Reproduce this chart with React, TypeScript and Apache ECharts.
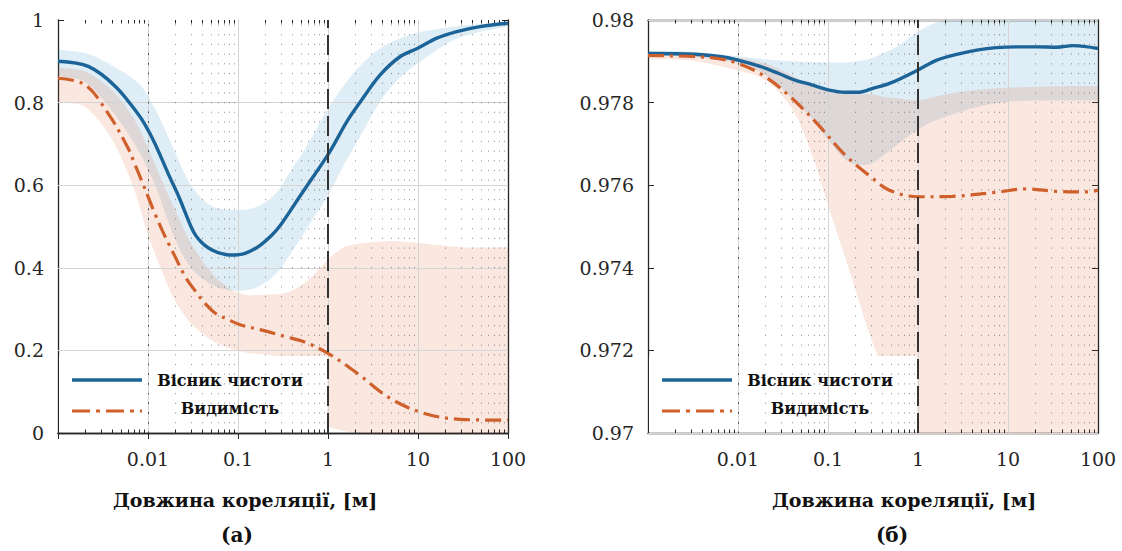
import React, { useEffect, useRef } from 'react';
import * as echarts from 'echarts';

// ---------- Panel (а) ----------
const purityAX = [0.001, 0.0022, 0.0044, 0.0079, 0.0093, 0.012, 0.017, 0.022, 0.03, 0.034, 0.04, 0.047, 0.06, 0.085, 0.12, 0.17, 0.24, 0.3, 0.417, 0.59, 1.02, 1.62, 2.29, 3.8, 6.3, 9.8, 16.2, 27, 49, 100];
const purityAY = [0.900, 0.887, 0.838, 0.770, 0.746, 0.700, 0.625, 0.572, 0.500, 0.478, 0.460, 0.448, 0.437, 0.431, 0.435, 0.452, 0.480, 0.505, 0.551, 0.600, 0.677, 0.754, 0.802, 0.867, 0.911, 0.931, 0.956, 0.972, 0.984, 0.992];
const visAX = [0.001, 0.002, 0.0036, 0.0059, 0.0072, 0.0086, 0.0102, 0.012, 0.0143, 0.0169, 0.02, 0.026, 0.034, 0.043, 0.056, 0.079, 0.11, 0.185, 0.34, 0.54, 1, 2.1, 4.9, 11.5, 29.5, 100];
const visAY = [0.859, 0.843, 0.774, 0.693, 0.649, 0.608, 0.568, 0.530, 0.492, 0.459, 0.427, 0.378, 0.342, 0.314, 0.29, 0.274, 0.261, 0.249, 0.233, 0.221, 0.193, 0.145, 0.084, 0.048, 0.033, 0.031];
const purityBandAX = [0.001, 0.002, 0.004, 0.008, 0.012, 0.02, 0.03, 0.05, 0.085, 0.15, 0.25, 0.4, 0.6, 1, 1.6, 2.3, 4, 6.3, 10, 27, 100];
const purityBandALow = [0.865, 0.85, 0.78, 0.68, 0.60, 0.47, 0.40, 0.36, 0.345, 0.35, 0.38, 0.44, 0.50, 0.575, 0.66, 0.72, 0.81, 0.86, 0.895, 0.955, 0.985];
const purityBandAHigh = [0.928, 0.92, 0.89, 0.845, 0.785, 0.68, 0.60, 0.55, 0.54, 0.545, 0.575, 0.64, 0.70, 0.785, 0.85, 0.89, 0.935, 0.955, 0.97, 0.985, 0.995];
const visBandAX = [0.001, 0.002, 0.004, 0.007, 0.01, 0.015, 0.02, 0.03, 0.05, 0.08, 0.12, 0.2, 0.35, 0.6, 1, 1.5, 2.5, 5, 10, 30, 100];
const visBandALow = [0.80, 0.79, 0.71, 0.59, 0.48, 0.38, 0.32, 0.265, 0.225, 0.205, 0.195, 0.19, 0.18, 0.14, 0.02, 0.005, 0, 0, 0, 0, 0];
const visBandAHigh = [0.885, 0.875, 0.83, 0.76, 0.69, 0.60, 0.54, 0.46, 0.39, 0.35, 0.335, 0.335, 0.34, 0.37, 0.42, 0.45, 0.46, 0.465, 0.46, 0.45, 0.45];

// ---------- Panel (б) ----------
const purityBX = [0.001, 0.0033, 0.0066, 0.01, 0.018, 0.028, 0.042, 0.066, 0.1, 0.155, 0.215, 0.31, 0.49, 1, 1.62, 2.7, 4.5, 7.4, 12.3, 21, 35, 53, 100];
const purityBY = [0.97919, 0.97917, 0.97911, 0.97903, 0.97887, 0.97871, 0.97855, 0.97843, 0.97831, 0.97825, 0.97825, 0.97834, 0.97847, 0.97879, 0.97903, 0.97917, 0.97927, 0.97933, 0.97935, 0.97935, 0.97934, 0.97938, 0.97931];
const visBX = [0.001, 0.005, 0.01, 0.02, 0.04, 0.078, 0.155, 0.3, 0.48, 1, 2.4, 7.4, 16, 35, 80, 100];
const visBY = [0.97914, 0.97909, 0.97895, 0.97863, 0.9781, 0.97746, 0.97673, 0.9762, 0.97588, 0.97572, 0.97573, 0.97583, 0.97591, 0.97585, 0.97584, 0.97588];
const bandBX = [0.001, 0.003, 0.01, 0.02, 0.04, 0.07, 0.1, 0.15, 0.2, 0.3, 0.4, 0.6, 1, 1.6, 2.7, 5, 10, 20, 50, 100];
const purityBandBLow = [0.97913, 0.97911, 0.97895, 0.97868, 0.9781, 0.97755, 0.9771, 0.97665, 0.9765, 0.97652, 0.9767, 0.977, 0.97735, 0.97758, 0.97775, 0.97792, 0.97802, 0.97805, 0.97805, 0.97805];
const purityBandBHigh = [0.97925, 0.97924, 0.97912, 0.97905, 0.979, 0.97898, 0.97897, 0.97897, 0.979, 0.97907, 0.97918, 0.97937, 0.97972, 0.97994, 0.9801, 0.9802, 0.9802, 0.9802, 0.9802, 0.9802];
const visBandBLow = [0.97905, 0.97902, 0.97878, 0.97855, 0.97785, 0.9766, 0.97552, 0.97435, 0.9735, 0.9723, 0.9717, 0.97165, 0.969, 0.969, 0.969, 0.969, 0.969, 0.969, 0.969, 0.969];
const visBandBHigh = [0.9792, 0.97918, 0.97908, 0.97895, 0.97865, 0.9784, 0.9783, 0.97822, 0.9782, 0.9782, 0.97815, 0.9781, 0.97806, 0.97815, 0.97825, 0.97832, 0.97836, 0.97838, 0.9784, 0.9784];

// ---------- Ticks & texts ----------
const xTicks = [0.001, 0.01, 0.1, 1, 10, 100];
const xTickLabels = ['', '0.01', '0.1', '1', '10', '100'];
const minorMultipliers = [2, 3, 4, 5, 6, 7, 8, 9];
const yTicksA = [0, 0.2, 0.4, 0.6, 0.8, 1];
const yTickLabelsA = ['0', '0.2', '0.4', '0.6', '0.8', '1'];
const yTicksB = [0.97, 0.972, 0.974, 0.976, 0.978, 0.98];
const yTickLabelsB = ['0.97', '0.972', '0.974', '0.976', '0.978', '0.98'];
const seriesNames = ['Вісник чистоти', 'Видимість'];
const xTitle = 'Довжина кореляції, [м]';
const captions = ['(а)', '(б)'];
const markerX = 1;

// ---------- Style / layout ----------
const FONT = 'DejaVu Serif';
const BLUE = '#1c6497';
const ORANGE = '#cf5f2b';
const BLUE_FILL = '#0072BD';
const ORANGE_FILL = '#D95319';
const AXIS_COLOR = '#262626';
const GRID_TOP = 20;
const GRID_H = 413;
const GRID_W = 450;
const GRID_LEFTS = [58, 648];
const LEGEND_TOP = 356;
const TITLE_X = [245, 904];
const CAPTION_X = [237, 892];
const DASHDOT = [16, 6, 3, 6];

const panels = [
  {
    purityX: purityAX, purityY: purityAY, visX: visAX, visY: visAY,
    pBandX: purityBandAX, pLow: purityBandALow, pHigh: purityBandAHigh,
    vBandX: visBandAX, vLow: visBandALow, vHigh: visBandAHigh,
    yTicks: yTicksA, yLabels: yTickLabelsA,
  },
  {
    purityX: purityBX, purityY: purityBY, visX: visBX, visY: visBY,
    pBandX: bandBX, pLow: purityBandBLow, pHigh: purityBandBHigh,
    vBandX: bandBX, vLow: visBandBLow, vHigh: visBandBHigh,
    yTicks: yTicksB, yLabels: yTickLabelsB,
  },
];

const minorXTicks = xTicks.slice(0, -1).flatMap((d) => minorMultipliers.map((k) => d * k));

function xLabel(v: number) {
  const i = xTicks.findIndex((t) => Math.abs(Math.log10(t) - Math.log10(v)) < 1e-6);
  return i < 0 ? '' : xTickLabels[i];
}

function textEl(text: string, x: number, y: number, size: number) {
  return {
    type: 'text', z: 10, silent: true, x, y,
    style: {
      text, fontFamily: FONT, fontSize: size, fontWeight: 'bold', fill: '#111111',
      align: 'center', verticalAlign: 'middle',
    },
  };
}

function buildOption() {
  const grid: any[] = [];
  const xAxis: any[] = [];
  const yAxis: any[] = [];
  const series: any[] = [];
  const graphic: any[] = [];

  panels.forEach((p, i) => {
    const left = GRID_LEFTS[i];
    const yMin = p.yTicks[0];
    const yMax = p.yTicks[p.yTicks.length - 1];
    const yInterval = p.yTicks[1] - p.yTicks[0];
    const xMin = xTicks[0];
    const xMax = xTicks[xTicks.length - 1];
    grid.push({ left, top: GRID_TOP, width: GRID_W, height: GRID_H, show: false });

    const axisLine = { show: true, lineStyle: { color: AXIS_COLOR, width: 1.3 } };
    const tick = { show: true, inside: true, length: 6, lineStyle: { color: AXIS_COLOR, width: 1 } };
    const labelStyle = { fontFamily: FONT, fontSize: 19, color: AXIS_COLOR };

    xAxis.push({
      gridIndex: i, type: 'log', logBase: 10, min: xMin, max: xMax, position: 'bottom',
      axisLine, axisTick: tick, splitLine: { show: false },
      axisLabel: { ...labelStyle, margin: 16, formatter: xLabel, showMinLabel: true, showMaxLabel: true },
    });
    xAxis.push({
      gridIndex: i, type: 'log', logBase: 10, min: xMin, max: xMax, position: 'top',
      axisLine, axisTick: tick, splitLine: { show: false }, axisLabel: { show: false },
    });
    const yLabel = (v: number) => {
      const k = p.yTicks.findIndex((t) => Math.abs(t - v) < yInterval * 1e-3);
      return k < 0 ? '' : p.yLabels[k];
    };
    yAxis.push({
      gridIndex: i, type: 'value', min: yMin, max: yMax, interval: yInterval, position: 'left',
      axisLine, axisTick: tick, splitLine: { show: false },
      axisLabel: { ...labelStyle, margin: 14, formatter: yLabel },
    });
    yAxis.push({
      gridIndex: i, type: 'value', min: yMin, max: yMax, interval: yInterval, position: 'right',
      axisLine, axisTick: tick, splitLine: { show: false }, axisLabel: { show: false },
    });

    const xi = 2 * i;
    const yi = 2 * i;
    const base = { xAxisIndex: xi, yAxisIndex: yi, silent: true, symbol: 'none' };

    const band = (xs: number[], low: number[], high: number[], color: string, opacity: number) => ({
      type: 'custom', xAxisIndex: xi, yAxisIndex: yi, coordinateSystem: 'cartesian2d',
      clip: true, silent: true, z: 2,
      data: xs.map((x, k) => [x, low[k], high[k]]),
      encode: { x: 0, y: [1, 2] },
      renderItem: (params: any, api: any) => {
        if (params.dataIndex !== 0) return null;
        const top = xs.map((x, k) => api.coord([x, high[k]]));
        const bottom = xs.map((x, k) => api.coord([x, low[k]])).reverse();
        const pts = [top[0], ...top, top[top.length - 1], bottom[0], ...bottom, bottom[bottom.length - 1]];
        return {
          type: 'polygon',
          shape: { points: pts, smooth: 0.3 },
          style: { fill: color, opacity },
        };
      },
    });
    series.push(band(p.pBandX, p.pLow, p.pHigh, BLUE_FILL, 0.13));
    series.push(band(p.vBandX, p.vLow, p.vHigh, ORANGE_FILL, 0.14));

    series.push({
      ...base, type: 'line', data: [],
      markLine: {
        z: 4, silent: true, symbol: ['none', 'none'], label: { show: false }, animation: false,
        lineStyle: { color: '#d4d4d4', width: 1, type: 'solid' },
        data: [
          ...xTicks.slice(1, -1).map((v) => ({ xAxis: v })),
          ...p.yTicks.slice(1, -1).map((v) => ({ yAxis: v })),
        ],
      },
    });
    series.push({
      ...base, type: 'line', data: [],
      markLine: {
        z: 4, silent: true, symbol: ['none', 'none'], label: { show: false }, animation: false,
        lineStyle: { color: 'rgba(60,60,60,0.5)', width: 1, type: [1.2, 8.5] },
        data: minorXTicks.map((v) => ({ xAxis: v })),
      },
    });
    const len = (yMax - yMin) * 3.5 / GRID_H;
    series.push({
      ...base, type: 'line', data: [],
      markLine: {
        z: 4, silent: true, symbol: ['none', 'none'], label: { show: false }, animation: false,
        lineStyle: { color: AXIS_COLOR, width: 1, type: 'solid' },
        data: minorXTicks.flatMap((v) => [
          [{ coord: [v, yMin] }, { coord: [v, yMin + len] }],
          [{ coord: [v, yMax] }, { coord: [v, yMax - len] }],
        ]),
      },
    });
    series.push({
      ...base, silent: false, type: 'line', name: seriesNames[0], smooth: 0.35, z: 6,
      data: p.purityX.map((x, k) => [x, p.purityY[k]]),
      lineStyle: { color: BLUE, width: 3.4 },
    });
    series.push({
      ...base, silent: false, type: 'line', name: seriesNames[1], smooth: 0.35, z: 6,
      data: p.visX.map((x, k) => [x, p.visY[k]]),
      lineStyle: { color: ORANGE, width: 3.2, type: DASHDOT, cap: 'butt' },
    });
    series.push({
      ...base, type: 'line', data: [],
      markLine: {
        z: 7, silent: true, symbol: ['none', 'none'], label: { show: false }, animation: false,
        lineStyle: { color: '#333333', width: 2, type: [20, 7] },
        data: [{ xAxis: markerX }],
      },
    });

    const xOne = left + GRID_W * (Math.log10(markerX) - Math.log10(xMin)) / (Math.log10(xMax) - Math.log10(xMin));
    graphic.push({
      type: 'rect', z: 3, silent: true,
      shape: { x: left + 1, y: LEGEND_TOP, width: xOne - left - 2, height: GRID_TOP + GRID_H - LEGEND_TOP - 1 },
      style: { fill: '#ffffff' },
    });
    graphic.push({
      type: 'line', z: 10, silent: true,
      shape: { x1: left + 14, y1: 380, x2: left + 84, y2: 380 },
      style: { stroke: BLUE, lineWidth: 3.4 },
    });
    graphic.push({
      type: 'line', z: 10, silent: true,
      shape: { x1: left + 14, y1: 411, x2: left + 84, y2: 411 },
      style: { stroke: ORANGE, lineWidth: 3.2, lineDash: [18, 6, 4, 6] },
    });
    graphic.push(textEl(seriesNames[0], left + 172, 380, 16));
    graphic.push(textEl(seriesNames[1], left + 172, 408, 16));
    graphic.push(textEl(xTitle, TITLE_X[i], 500, 19));
    graphic.push(textEl(captions[i], CAPTION_X[i], 535, 20));
  });

  return {
    animation: false,
    backgroundColor: '#ffffff',
    grid, xAxis, yAxis, series,
    graphic: { elements: graphic },
  };
}

export default function App() {
  const ref = useRef<HTMLDivElement>(null);
  useEffect(() => {
    if (!ref.current) return;
    const chart = echarts.init(ref.current, null, { renderer: 'svg' });
    chart.setOption(buildOption() as any);
    return () => chart.dispose();
  }, []);
  return (
    <div
      ref={ref}
      style={{ position: 'fixed', left: 0, top: 0, width: 1122, height: 551, background: '#fff' }}
    />
  );
}
